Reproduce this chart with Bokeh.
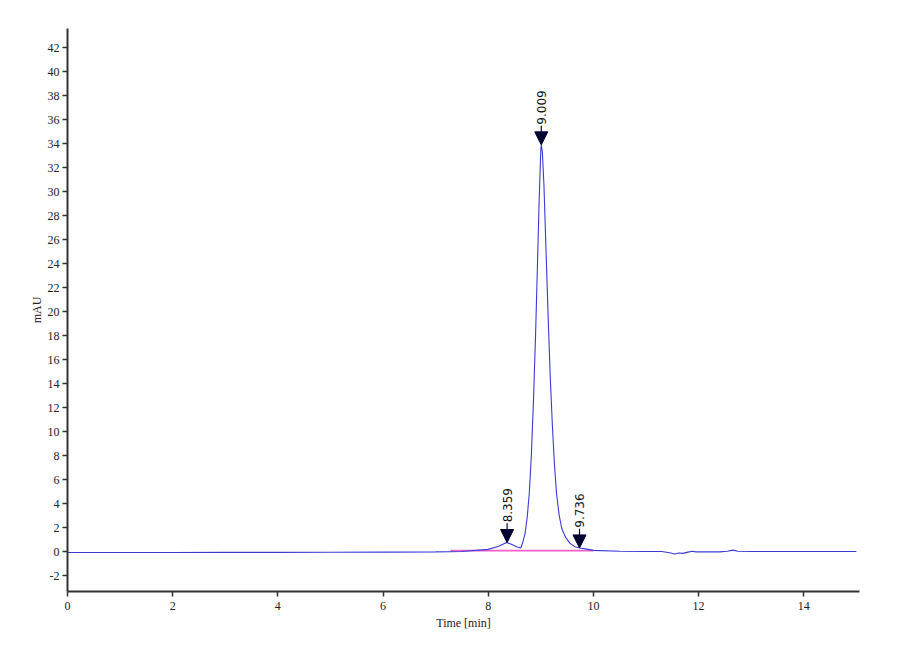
from bokeh.plotting import figure
from bokeh.models import (Range1d, FixedTicker, Arrow, NormalHead,
                          ColumnDataSource, CustomJSTickFormatter)
from bokeh.core.properties import value
from bokeh.embed import file_html
from bokeh.resources import INLINE

# Chromatogram trace (time in min, signal in mAU)
time_min = [0.0, 1.0, 2.0, 3.0, 4.0, 5.0, 6.0, 7.0, 7.5, 8.0, 8.2, 8.3, 8.359,
            8.45, 8.55, 8.62, 8.66, 8.70, 8.74, 8.78, 8.82, 8.86, 8.90, 8.94,
            8.97, 9.0, 9.009, 9.03, 9.06, 9.10, 9.14, 9.18, 9.22, 9.26, 9.30,
            9.35, 9.40, 9.47, 9.55, 9.65, 9.736, 9.85, 10.0, 10.5, 11.0, 11.3,
            11.45, 11.55, 11.62, 11.7, 11.8, 11.88, 11.95, 12.1, 12.4, 12.55,
            12.65, 12.75, 13.0, 14.0, 15.0]
signal_mau = [-0.08, -0.08, -0.08, -0.07, -0.07, -0.06, -0.05, -0.03, 0.0, 0.18,
              0.45, 0.66, 0.75, 0.58, 0.38, 0.30, 0.8, 1.5, 2.8, 4.8, 8.0, 12.5,
              18.0, 24.5, 29.5, 33.5, 33.9, 33.3, 30.5, 25.0, 19.5, 14.5, 10.5,
              7.2, 4.8, 3.0, 1.9, 1.2, 0.7, 0.4, 0.3, 0.22, 0.1, 0.03, 0.0, 0.0,
              -0.1, -0.2, -0.12, -0.15, -0.05, 0.02, -0.03, -0.03, -0.03, 0.02,
              0.12, 0.03, 0.0, 0.0, 0.0]

# Integration baseline
baseline_t = [7.28, 10.0]
baseline_y = [0.08, 0.08]

# Peak labels
peak_t = [8.359, 9.009, 9.736]
peak_h = [0.75, 33.9, 0.30]
peak_labels = ["8.359", "9.009", "9.736"]

x_ticks = [0, 2, 4, 6, 8, 10, 12, 14]
y_ticks = list(range(-2, 44, 2))

p = figure(frame_width=792, frame_height=563, output_backend="svg",
           toolbar_location=None, x_range=Range1d(0, 15.06),
           y_range=Range1d(-3.33, 43.6), min_border_left=67,
           min_border_right=25, min_border_top=28, min_border_bottom=50)
p.background_fill_color = "white"
p.border_fill_color = "white"
p.outline_line_color = None
p.xgrid.visible = False
p.ygrid.visible = False

p.line(baseline_t, baseline_y, line_color="#f060c8", line_width=1.6)
p.line(time_min, signal_mau, line_color="#3a3ad8", line_width=1.1)

arrow_len = 1.6
for t, h in zip(peak_t, peak_h):
    p.add_layout(Arrow(end=NormalHead(size=13, fill_color="#000030",
                                      line_color="#000030", line_width=1),
                       x_start=t, y_start=h + arrow_len, x_end=t, y_end=h,
                       line_color="#000030", line_width=1.2))

src = ColumnDataSource(dict(x=peak_t, y=[h + arrow_len for h in peak_h],
                            t=peak_labels))
p.text(x="x", y="y", text="t", source=src, angle=1.5708, text_align="left",
       text_baseline="middle", text_font=value("DejaVu Sans"),
       text_font_size="12px", text_color="#111111", x_offset=0, y_offset=-1)

fmt = CustomJSTickFormatter(code="return tick.toString();")
for ax in (p.xaxis[0], p.yaxis[0]):
    ax.formatter = fmt
    ax.axis_line_color = "#333333"
    ax.axis_line_width = 2
    ax.major_tick_line_color = "#333333"
    ax.major_tick_line_width = 1.5
    ax.major_tick_out = 5
    ax.major_tick_in = 0
    ax.minor_tick_line_color = None
    ax.major_label_text_font = "Liberation Serif"
    ax.major_label_text_font_size = "12px"
    ax.major_label_text_color = "#222222"
    ax.axis_label_text_font = "Liberation Serif"
    ax.axis_label_text_font_size = "12px"
    ax.axis_label_text_font_style = "normal"
    ax.axis_label_text_color = "#222222"

p.xaxis.ticker = FixedTicker(ticks=x_ticks)
p.yaxis.ticker = FixedTicker(ticks=y_ticks)
p.xaxis.axis_label = "Time [min]"
p.yaxis.axis_label = "mAU"
p.xaxis.major_label_standoff = 5
p.yaxis.major_label_standoff = 3
p.xaxis.axis_label_standoff = 3
p.yaxis.axis_label_standoff = 1

open("out.html", "w").write(file_html(p, INLINE))
